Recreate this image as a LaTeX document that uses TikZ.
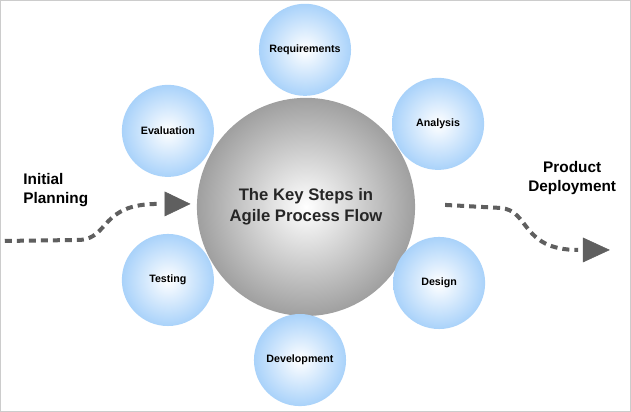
\documentclass[tikz,border=0pt]{standalone}
\usepackage{fontspec}
\setmainfont{Liberation Sans}
\definecolor{stepblue}{HTML}{A9D2FA}
\definecolor{flowgray}{HTML}{5F5F5F}
\tikzset{
  stepcircle/.style={circle, minimum size=92\px, inner sep=0pt, shading=radial,
    inner color=white, outer color=stepblue, font=\fontsize{8}{9}\selectfont\bfseries},
  flowline/.style={flowgray, line width=4\px, dash pattern=on 7\px off 5\px},
  flowtip/.style={flowgray, fill=flowgray}
}
\newlength{\px}\setlength{\px}{0.75pt}
\begin{document}
\begin{tikzpicture}[x=0.75pt, y=-0.75pt]
  \draw[gray!40, fill=white] (0.5,0.5) rectangle (630.5,411.5);

  % centre
  \node[circle, minimum size=218\px, inner sep=0pt, shading=radial, inner color=white,
    outer color=gray!75, align=center, font=\fontsize{12.5}{16}\selectfont\bfseries,
    text=black!85] (key) at (306,207) {The Key Steps in\\Agile Process Flow};

  % steps
  \node[stepcircle] (req) at (305,50) {Requirements};
  \node[stepcircle] (ana) at (438,124) {Analysis};
  \node[stepcircle] (des) at (439,283) {Design};
  \node[stepcircle] (dev) at (300,360) {Development};
  \node[stepcircle] (tst) at (168,280) {Testing};
  \node[stepcircle] (eva) at (168,131) {Evaluation};

  % left flow
  \coordinate (inA) at (5,241);
  \coordinate (inB) at (158,204);
  \draw[flowline] (inA) -- (80,240) .. controls (110,238) and (100,204) .. (inB);
  \draw[flowtip] (165,192) -- (190,204) -- (165,216) -- cycle;
  \node[align=left, font=\fontsize{11.5}{14}\selectfont\bfseries] (init) at (56,190) {Initial\\Planning};

  % right flow
  \coordinate (outA) at (445,205);
  \coordinate (outB) at (578,250);
  \draw[flowline] (outA) -- (500,208) .. controls (530,210) and (520,250) .. (outB);
  \draw[flowtip] (583,238) -- (609,250) -- (583,262) -- cycle;
  \node[align=center, font=\fontsize{11.5}{14}\selectfont\bfseries] (prod) at (572,178) {Product\\Deployment};
\end{tikzpicture}
\end{document}
